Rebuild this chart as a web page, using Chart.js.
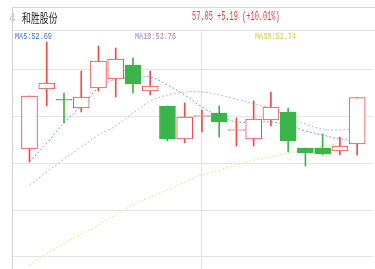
<!DOCTYPE html>
<html>
<head>
<meta charset="utf-8">
<script src="https://cdn.jsdelivr.net/npm/chart.js@4/dist/chart.umd.min.js"></script>
<style>
  body { margin: 0; background: #fff; }
  #wrap { position: relative; width: 375px; height: 269px; overflow: hidden; }
  #kline { position: absolute; left: 0; top: 0; }
  .abs { position: absolute; white-space: nowrap; transform-origin: left top; }
  .hline { position: absolute; height: 1px; background: #d8d8d8; }
  .vline { position: absolute; width: 1px; background: #d0d0d0; }
</style>
</head>
<body>
<div id="wrap">
  <canvas id="kline" width="375" height="269"></canvas>
  <div class="hline" style="left:12px; top:7px; width:363px;"></div>
  <div class="hline" style="left:12px; top:30px; width:363px; background:#e2e2e2;"></div>
  <div class="vline" style="left:12px; top:7px; height:24px;"></div>
  <div class="abs" style="left:9px; top:11px; font:12px 'Liberation Sans'; color:#c8c8c8;">4</div>
  <div class="abs" id="stockName" style="left:22px; top:9px; font:12px 'Noto Sans CJK SC'; color:#222; transform:scaleX(0.74);"></div>
  <div class="abs" id="quote" style="left:192px; top:10px; font:12px 'Liberation Mono'; color:#e83c3c; transform:scaleX(0.58);"></div>
  <div class="abs" id="ma5Label" style="left:15px; top:32px; font:9px 'Liberation Mono'; color:#3a6cc8; transform:scaleX(0.76);"></div>
  <div class="abs" id="ma10Label" style="left:135px; top:32px; font:9px 'Liberation Mono'; color:#a478cc; transform:scaleX(0.76);"></div>
  <div class="abs" id="ma30Label" style="left:255px; top:32px; font:9px 'Liberation Mono'; color:#d4cc3c; transform:scaleX(0.76);"></div>
</div>
<script>
const stockName = "和胜股份";
const quoteText = "57.05 +5.19 (+10.01%)";

// daily candles
const opens  = [51.55, 57.97, 56.85, 55.94, 58.07, 59.04, 60.53, 57.75, 56.15, 52.62, 55.03, 55.40, 53.53, 52.62, 54.65, 55.51, 51.66, 51.66, 51.34, 52.09];
const closes = [57.22, 58.61, 56.78, 57.11, 60.96, 61.18, 58.50, 58.29, 52.62, 54.97, 55.13, 54.44, 53.64, 54.76, 56.04, 52.41, 51.12, 51.02, 51.86, 57.05];
const highs  = [57.22, 62.99, 57.54, 59.89, 62.57, 62.35, 61.28, 59.89, 56.15, 56.47, 55.72, 56.15, 54.87, 56.68, 57.65, 55.94, 51.66, 53.16, 52.83, 57.05];
const lows   = [50.16, 56.15, 54.33, 55.51, 57.75, 57.11, 57.54, 57.33, 52.41, 52.19, 53.37, 52.83, 51.87, 51.87, 54.01, 51.23, 49.73, 50.91, 50.91, 50.91];

// moving averages as drawn
const ma5  = [50.16, 52.19, 54.33, 56.15, 58.07, 59.04, 59.14, 59.25, 58.40, 57.33, 56.04, 55.08, 54.44, 54.44, 54.44, 54.12, 53.48, 53.05, 52.62, 52.69];
const ma10 = [47.70, 49.09, 50.48, 51.76, 53.05, 54.01, 55.40, 56.68, 57.33, 57.65, 57.65, 57.33, 56.90, 56.36, 55.94, 54.97, 54.22, 53.69, 53.58, 53.76];
const ma30 = [39.14, 40.32, 41.50, 42.46, 43.42, 44.49, 45.56, 46.42, 47.17, 48.02, 48.77, 49.30, 49.84, 50.37, 50.70, 51.12, 51.44, 51.87, 52.19, 52.74];

const maNames = ["MA5", "MA10", "MA30"];
const priceTicks = [40, 45, 50, 55, 60];
const dayTicks = [10];

document.getElementById("stockName").textContent = stockName;
document.getElementById("quote").textContent = quoteText;
document.getElementById("ma5Label").textContent = maNames[0] + ":" + ma5[ma5.length - 1].toFixed(2);
document.getElementById("ma10Label").textContent = maNames[1] + ":" + ma10[ma10.length - 1].toFixed(2);
document.getElementById("ma30Label").textContent = maNames[2] + ":" + ma30[ma30.length - 1].toFixed(2);

const RED = "#f04a4a";
const GREEN = "#3bb54a";

let bodies = [], wicks = [], bodyFill = [], bodyLine = [], wickColor = [];
for (let i = 0; i < opens.length; i++) {
  let up = closes[i] >= opens[i];
  bodies.push({ x: i, y: [opens[i], closes[i]] });
  wicks.push({ x: i, y: [lows[i], highs[i]] });
  bodyFill.push(up ? "#ffffff" : GREEN);
  bodyLine.push(up ? RED : GREEN);
  wickColor.push(up ? RED : GREEN);
}

function maLine(values, color) {
  return {
    type: "line",
    data: values.map((v, i) => ({ x: i, y: v })),
    borderColor: color,
    borderWidth: 1,
    borderDash: [2, 2],
    pointRadius: 0,
    tension: 0.35,
    order: 3
  };
}

new Chart(document.getElementById("kline"), {
  type: "bar",
  data: {
    datasets: [
      maLine(ma30, "#e6e488"),
      maLine(ma10, "#c9a9e2"),
      maLine(ma5, "#7d9fdc"),
      {
        data: wicks,
        backgroundColor: wickColor,
        barThickness: 1,
        grouped: false,
        order: 2
      },
      {
        data: bodies,
        backgroundColor: bodyFill,
        borderColor: bodyLine,
        borderWidth: 1,
        borderSkipped: false,
        barThickness: 16,
        grouped: false,
        order: 1
      }
    ]
  },
  options: {
    responsive: false,
    animation: false,
    devicePixelRatio: 1,
    layout: { padding: { left: 12, right: 2, top: 30, bottom: 0 } },
    plugins: { legend: { display: false }, tooltip: { enabled: false } },
    scales: {
      x: {
        type: "linear",
        offset: false,
        min: -1.015,
        max: 19.92,
        afterBuildTicks: (s) => { s.ticks = dayTicks.map(v => ({ value: v })); },
        ticks: { display: false },
        grid: { color: "#e4e4e4", drawTicks: false, offset: false },
        border: { display: false }
      },
      y: {
        min: 38.716,
        max: 64.278,
        afterBuildTicks: (s) => { s.ticks = priceTicks.map(v => ({ value: v })); },
        ticks: { display: false },
        grid: { color: "#e4e4e4", drawTicks: false },
        border: { display: true, color: "#d0d0d0" }
      }
    }
  }
});
</script>
</body>
</html>
